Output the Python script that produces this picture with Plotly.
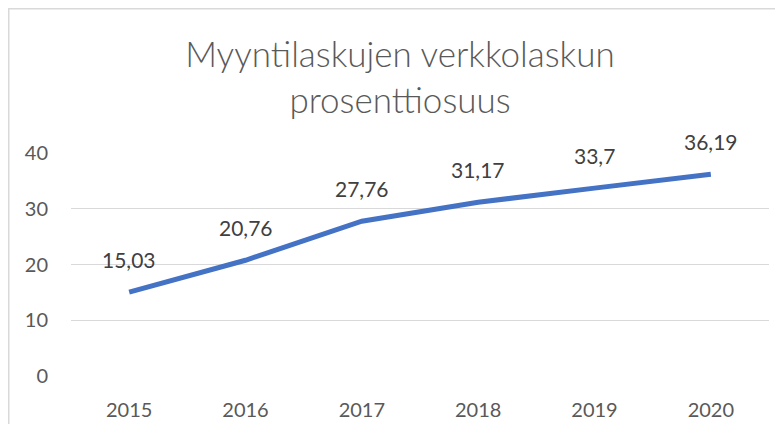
import plotly.graph_objects as go

years = ["2015", "2016", "2017", "2018", "2019", "2020"]
shares = [15.03, 20.76, 27.76, 31.17, 33.7, 36.19]
labels = [f"{v:g}".replace(".", ",") for v in shares]
title_text = "Myyntilaskujen verkkolaskun<br>prosenttiosuus"

# page body has an 8px default margin, so the figure is sized to fit inside it
W, H = 767, 416
L, R, T, B = 63, 6, 145, 48
pw, ph = W - L - R, H - T - B

def px_x(p):
    return (p - L) / pw

def px_y(p):
    return (H - B - p) / ph

FONT = "Lato, Open Sans, sans-serif"

fig = go.Figure()
fig.add_trace(go.Scatter(
    x=years, y=shares, mode="lines",
    line=dict(color="#4472C4", width=5),
    hoverinfo="skip", showlegend=False,
))

annotations = [
    dict(x=i, y=v, text=lab, xref="x", yref="y", showarrow=False,
         yshift=33, font=dict(family=FONT, size=21, color="#404040"))
    for i, (v, lab) in enumerate(zip(shares, labels))
]

fig.update_layout(
    width=W, height=H,
    margin=dict(l=L, r=R, t=T, b=B, autoexpand=False),
    paper_bgcolor="white", plot_bgcolor="white",
    title=dict(text=title_text, x=392 / W, xanchor="center",
               y=1 - 59 / H, yanchor="top", yref="container",
               font=dict(family=FONT, size=35, color="#595959", weight=300)),
    xaxis=dict(type="category", range=[-0.5, 5.5], showgrid=False, zeroline=False,
               showline=False, automargin=False,
               tickfont=dict(family=FONT, size=20, color="#595959"),
               ticklabelstandoff=20, fixedrange=True),
    yaxis=dict(range=[0, 40], tickvals=[0, 10, 20, 30, 40], showgrid=True,
               gridcolor="#D9D9D9", gridwidth=1, zeroline=False, showline=False,
               automargin=False,
               tickfont=dict(family=FONT, size=20, color="#595959"),
               ticklabelstandoff=22, fixedrange=True),
    annotations=annotations,
    shapes=[dict(type="rect", xref="paper", yref="paper",
                 x0=px_x(0.75), y0=px_y(440), x1=px_x(800), y1=px_y(0.75),
                 line=dict(color="#D9D9D9", width=1.5), fillcolor="rgba(0,0,0,0)", layer="below")],
)

fig.write_html("out.html")
